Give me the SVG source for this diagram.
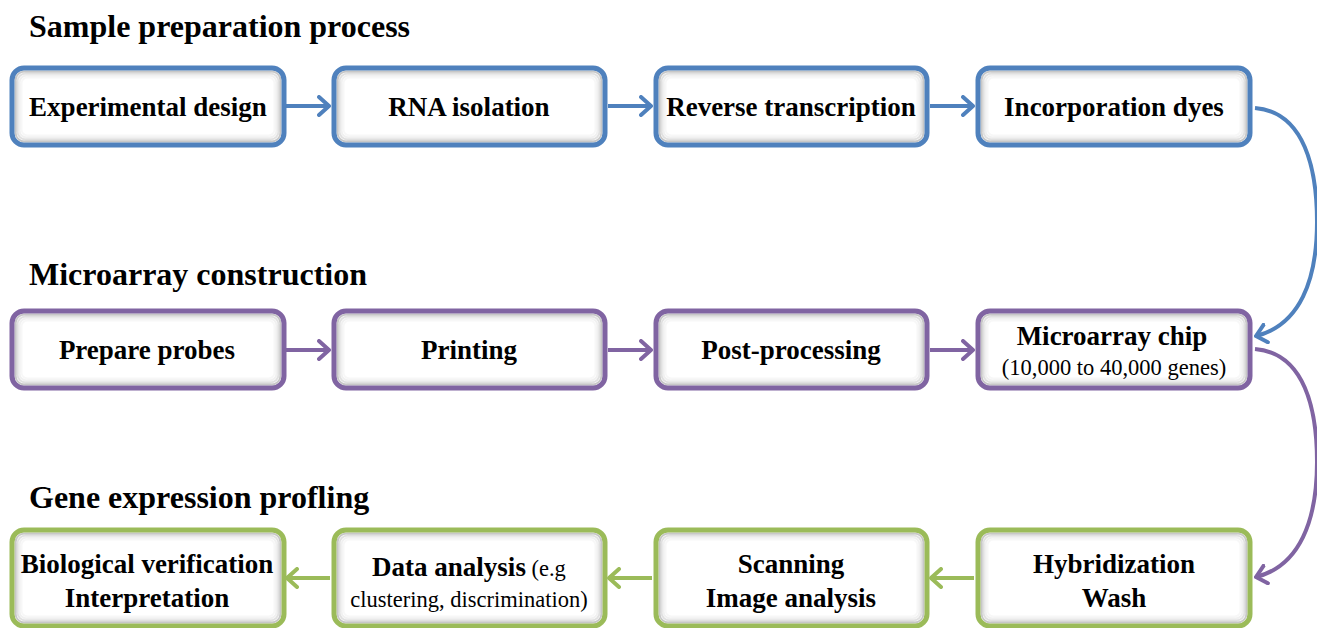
<svg xmlns="http://www.w3.org/2000/svg" width="1317" height="628" viewBox="0 0 1317 628">
<defs>
<marker id="mb" viewBox="0 0 14 22" refX="12" refY="11" markerWidth="14" markerHeight="22" markerUnits="userSpaceOnUse" orient="auto"><path d="M2,2 L12,11 L2,20" fill="none" stroke="#4F81BD" stroke-width="4" stroke-linecap="round" stroke-linejoin="round"/></marker>
<marker id="mp" viewBox="0 0 14 22" refX="12" refY="11" markerWidth="14" markerHeight="22" markerUnits="userSpaceOnUse" orient="auto"><path d="M2,2 L12,11 L2,20" fill="none" stroke="#8064A2" stroke-width="4" stroke-linecap="round" stroke-linejoin="round"/></marker>
<marker id="mg" viewBox="0 0 14 22" refX="12" refY="11" markerWidth="14" markerHeight="22" markerUnits="userSpaceOnUse" orient="auto"><path d="M2,2 L12,11 L2,20" fill="none" stroke="#9BBB59" stroke-width="4" stroke-linecap="round" stroke-linejoin="round"/></marker>
</defs>
<style>
.bg{fill:#fff}
.bx{fill:none;stroke-width:5}
.r1{fill:none;stroke:#000;stroke-opacity:0.22;stroke-width:2}
.r2{fill:none;stroke:#000;stroke-opacity:0.12;stroke-width:2}
.r3{fill:none;stroke:#000;stroke-opacity:0.06;stroke-width:2}
.r4{fill:none;stroke:#000;stroke-opacity:0.03;stroke-width:2}
.blue{stroke:#4F81BD}.purple{stroke:#8064A2}.green{stroke:#9BBB59}
text{font-family:"Liberation Serif","Times New Roman",serif;fill:#000;text-anchor:middle}
.h{font-size:32px;font-weight:bold;text-anchor:start}
.t{font-size:27px;font-weight:bold}
.s{font-size:22.5px;font-weight:normal}
.c{fill:none;stroke-width:4}
</style>
<rect width="1317" height="628" fill="#fff"/>
<text class="h" x="29" y="37">Sample preparation process</text>
<text class="h" x="29" y="285">Microarray construction</text>
<text class="h" x="29" y="508">Gene expression profling</text>

<g id="connectors">
<line class="c blue" x1="286" y1="106" x2="329" y2="106" marker-end="url(#mb)"/>
<line class="c blue" x1="608" y1="106" x2="651" y2="106" marker-end="url(#mb)"/>
<line class="c blue" x1="930" y1="106" x2="973" y2="106" marker-end="url(#mb)"/>
<line class="c purple" x1="286" y1="350" x2="329" y2="350" marker-end="url(#mp)"/>
<line class="c purple" x1="608" y1="350" x2="651" y2="350" marker-end="url(#mp)"/>
<line class="c purple" x1="930" y1="350" x2="973" y2="350" marker-end="url(#mp)"/>
<line class="c green" x1="652" y1="578" x2="609" y2="578" marker-end="url(#mg)"/>
<line class="c green" x1="974" y1="578" x2="931" y2="578" marker-end="url(#mg)"/>
<line class="c green" x1="330" y1="578" x2="287" y2="578" marker-end="url(#mg)"/>
<path class="c blue" d="M1255,108 C1305,112 1317,170 1317,222 C1317,280 1300,325 1256,336" marker-end="url(#mb)"/>
<path class="c purple" d="M1255,349 C1305,353 1317,410 1317,462 C1317,520 1300,566 1256,577" marker-end="url(#mp)"/>
</g>

<g id="n1"><rect class="bg" x="12" y="68" width="272" height="77" rx="12"/><rect class="r1" x="15.5" y="71.5" width="265" height="70" rx="9"/><rect class="r2" x="17.5" y="73.5" width="261" height="66" rx="8"/><rect class="r3" x="19.5" y="75.5" width="257" height="62" rx="7"/><rect class="r4" x="21.5" y="77.5" width="253" height="58" rx="6"/><rect class="bx blue" x="12" y="68" width="272" height="77" rx="12"/><text class="t" x="148" y="116">Experimental design</text></g>
<g id="n2"><rect class="bg" x="334" y="68" width="271" height="77" rx="12"/><rect class="r1" x="337.5" y="71.5" width="264" height="70" rx="9"/><rect class="r2" x="339.5" y="73.5" width="260" height="66" rx="8"/><rect class="r3" x="341.5" y="75.5" width="256" height="62" rx="7"/><rect class="r4" x="343.5" y="77.5" width="252" height="58" rx="6"/><rect class="bx blue" x="334" y="68" width="271" height="77" rx="12"/><text class="t" x="469" y="116">RNA isolation</text></g>
<g id="n3"><rect class="bg" x="656" y="68" width="271" height="77" rx="12"/><rect class="r1" x="659.5" y="71.5" width="264" height="70" rx="9"/><rect class="r2" x="661.5" y="73.5" width="260" height="66" rx="8"/><rect class="r3" x="663.5" y="75.5" width="256" height="62" rx="7"/><rect class="r4" x="665.5" y="77.5" width="252" height="58" rx="6"/><rect class="bx blue" x="656" y="68" width="271" height="77" rx="12"/><text class="t" x="791" y="116">Reverse transcription</text></g>
<g id="n4"><rect class="bg" x="978" y="68" width="272" height="77" rx="12"/><rect class="r1" x="981.5" y="71.5" width="265" height="70" rx="9"/><rect class="r2" x="983.5" y="73.5" width="261" height="66" rx="8"/><rect class="r3" x="985.5" y="75.5" width="257" height="62" rx="7"/><rect class="r4" x="987.5" y="77.5" width="253" height="58" rx="6"/><rect class="bx blue" x="978" y="68" width="272" height="77" rx="12"/><text class="t" x="1114" y="116">Incorporation dyes</text></g>

<g id="n5"><rect class="bg" x="12" y="311" width="272" height="77" rx="12"/><rect class="r1" x="15.5" y="314.5" width="265" height="70" rx="9"/><rect class="r2" x="17.5" y="316.5" width="261" height="66" rx="8"/><rect class="r3" x="19.5" y="318.5" width="257" height="62" rx="7"/><rect class="r4" x="21.5" y="320.5" width="253" height="58" rx="6"/><rect class="bx purple" x="12" y="311" width="272" height="77" rx="12"/><text class="t" x="147" y="359">Prepare probes</text></g>
<g id="n6"><rect class="bg" x="334" y="311" width="271" height="77" rx="12"/><rect class="r1" x="337.5" y="314.5" width="264" height="70" rx="9"/><rect class="r2" x="339.5" y="316.5" width="260" height="66" rx="8"/><rect class="r3" x="341.5" y="318.5" width="256" height="62" rx="7"/><rect class="r4" x="343.5" y="320.5" width="252" height="58" rx="6"/><rect class="bx purple" x="334" y="311" width="271" height="77" rx="12"/><text class="t" x="469" y="359">Printing</text></g>
<g id="n7"><rect class="bg" x="656" y="311" width="271" height="77" rx="12"/><rect class="r1" x="659.5" y="314.5" width="264" height="70" rx="9"/><rect class="r2" x="661.5" y="316.5" width="260" height="66" rx="8"/><rect class="r3" x="663.5" y="318.5" width="256" height="62" rx="7"/><rect class="r4" x="665.5" y="320.5" width="252" height="58" rx="6"/><rect class="bx purple" x="656" y="311" width="271" height="77" rx="12"/><text class="t" x="791" y="359">Post-processing</text></g>
<g id="n8"><rect class="bg" x="978" y="311" width="272" height="77" rx="12"/><rect class="r1" x="981.5" y="314.5" width="265" height="70" rx="9"/><rect class="r2" x="983.5" y="316.5" width="261" height="66" rx="8"/><rect class="r3" x="985.5" y="318.5" width="257" height="62" rx="7"/><rect class="r4" x="987.5" y="320.5" width="253" height="58" rx="6"/><rect class="bx purple" x="978" y="311" width="272" height="77" rx="12"/><text class="t" x="1112" y="345">Microarray chip</text><text class="s" x="1114" y="375">(10,000 to 40,000 genes)</text></g>

<g id="n9"><rect class="bg" x="12" y="530" width="272" height="96" rx="12"/><rect class="r1" x="15.5" y="533.5" width="265" height="89" rx="9"/><rect class="r2" x="17.5" y="535.5" width="261" height="85" rx="8"/><rect class="r3" x="19.5" y="537.5" width="257" height="81" rx="7"/><rect class="r4" x="21.5" y="539.5" width="253" height="77" rx="6"/><rect class="bx green" x="12" y="530" width="272" height="96" rx="12"/><text class="t" x="147" y="573">Biological verification</text><text class="t" x="147" y="607">Interpretation</text></g>
<g id="n10"><rect class="bg" x="334" y="530" width="271" height="96" rx="12"/><rect class="r1" x="337.5" y="533.5" width="264" height="89" rx="9"/><rect class="r2" x="339.5" y="535.5" width="260" height="85" rx="8"/><rect class="r3" x="341.5" y="537.5" width="256" height="81" rx="7"/><rect class="r4" x="343.5" y="539.5" width="252" height="77" rx="6"/><rect class="bx green" x="334" y="530" width="271" height="96" rx="12"/><text x="469" y="576"><tspan class="t">Data analysis</tspan><tspan class="s"> (e.g</tspan></text><text class="s" x="469" y="607">clustering, discrimination)</text></g>
<g id="n11"><rect class="bg" x="656" y="530" width="271" height="96" rx="12"/><rect class="r1" x="659.5" y="533.5" width="264" height="89" rx="9"/><rect class="r2" x="661.5" y="535.5" width="260" height="85" rx="8"/><rect class="r3" x="663.5" y="537.5" width="256" height="81" rx="7"/><rect class="r4" x="665.5" y="539.5" width="252" height="77" rx="6"/><rect class="bx green" x="656" y="530" width="271" height="96" rx="12"/><text class="t" x="791" y="573">Scanning</text><text class="t" x="791" y="607">Image analysis</text></g>
<g id="n12"><rect class="bg" x="978" y="530" width="272" height="96" rx="12"/><rect class="r1" x="981.5" y="533.5" width="265" height="89" rx="9"/><rect class="r2" x="983.5" y="535.5" width="261" height="85" rx="8"/><rect class="r3" x="985.5" y="537.5" width="257" height="81" rx="7"/><rect class="r4" x="987.5" y="539.5" width="253" height="77" rx="6"/><rect class="bx green" x="978" y="530" width="272" height="96" rx="12"/><text class="t" x="1114" y="573">Hybridization</text><text class="t" x="1114" y="607">Wash</text></g>
</svg>
